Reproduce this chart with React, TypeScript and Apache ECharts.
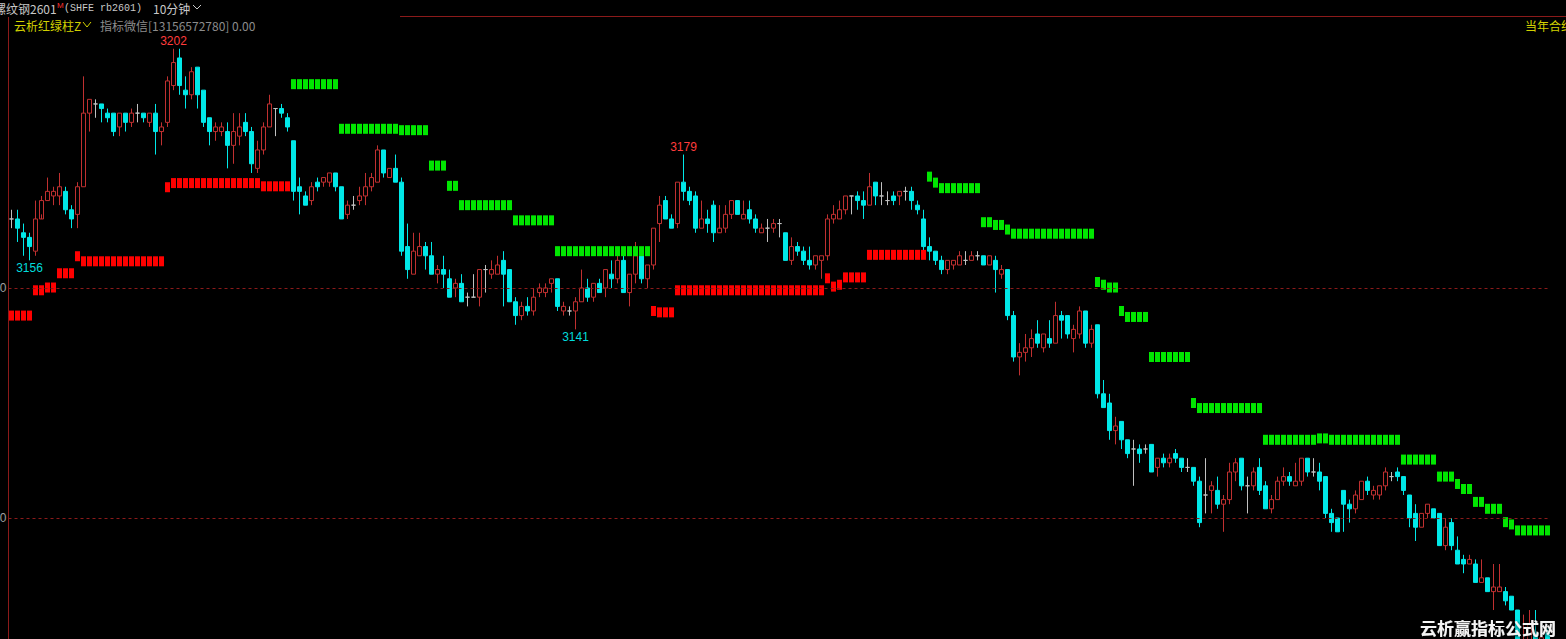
import React, { useEffect, useRef } from "react";
import * as echarts from "echarts";

// ---- candle data (10-minute bars, rb2601) ----
const opens = [
  3165,3165,3162,3161,3158,3165,3169,3170,3170,3171,
  3167,3166,3172,3188,3190,3190,3188,3188,3185,3188,
  3186,3188,3188,3186,3188,3184,3186,3194,3200,3193,
  3192,3198,3193,3187,3184,3184,3184,3181,3183,3186,
  3184,3176,3180,3185,3189,3189,3187,3182,3172,3170,
  3169,3173,3173,3173,3175,3172,3166,3168,3169,3170,
  3172,3173,3180,3174,3176,3173,3159,3153,3157,3159,
  3157,3153,3154,3152,3150,3151,3148,3148,3148,3154,
  3153,3153,3156,3154,3147,3144,3146,3145,3149,3149,
  3151,3152,3145,3145,3145,3147,3150,3148,3151,3150,
  3153,3152,3156,3149,3153,3157,3152,3155,3164,3169,
  3165,3164,3173,3171,3170,3163,3165,3168,3162,3163,
  3166,3169,3165,3167,3165,3162,3163,3163,3164,3162,
  3156,3159,3158,3156,3155,3156,3157,3165,3165,3167,
  3170,3170,3169,3168,3173,3170,3169,3170,3170,3171,
  3171,3168,3165,3159,3158,3156,3154,3155,3155,3156,
  3156,3157,3157,3155,3156,3153,3154,3144,3135,3136,
  3137,3140,3137,3139,3138,3144,3144,3139,3140,3145,
  3138,3142,3127,3125,3119,3121,3117,3115,3115,3115,
  3116,3111,3113,3112,3114,3113,3111,3111,3108,3105,
  3106,3106,3103,3104,3110,3113,3107,3107,3111,3107,
  3102,3104,3108,3109,3107,3108,3113,3110,3110,3109,
  3101,3100,3106,3103,3102,3104,3108,3105,3105,3107,
  3109,3110,3109,3105,3101,3098,3101,3102,3101,3094,
  3099,3093,3091,3090,3090,3086,3087,3084,3084,3084,
  3083,3080,3071,3072,3075,3072,3075
];
const closes = [
  3165,3163,3161,3159,3165,3169,3171,3171,3172,3167,
  3165,3172,3188,3191,3190,3189,3187,3184,3188,3186,
  3188,3188,3187,3188,3184,3185,3195,3199,3194,3192,
  3197,3192,3186,3184,3185,3185,3181,3184,3185,3184,
  3177,3180,3185,3190,3189,3188,3185,3171,3171,3168,
  3172,3172,3174,3175,3172,3165,3168,3168,3170,3172,
  3174,3180,3175,3176,3173,3158,3154,3158,3159,3157,
  3153,3154,3153,3148,3151,3147,3148,3148,3154,3154,
  3154,3155,3153,3147,3144,3146,3145,3148,3150,3150,
  3152,3146,3146,3145,3147,3150,3148,3151,3149,3154,
  3152,3156,3149,3153,3157,3152,3155,3163,3168,3165,
  3163,3173,3171,3169,3163,3165,3164,3162,3163,3166,
  3169,3166,3166,3165,3163,3163,3163,3164,3164,3156,
  3159,3158,3156,3155,3157,3157,3165,3166,3167,3170,
  3170,3169,3168,3172,3170,3170,3169,3169,3171,3171,
  3169,3167,3159,3158,3156,3154,3156,3156,3157,3156,
  3157,3157,3155,3157,3154,3154,3144,3135,3136,3137,
  3139,3138,3140,3138,3144,3143,3140,3141,3145,3138,
  3141,3127,3124,3119,3120,3117,3114,3115,3114,3115,
  3110,3113,3112,3113,3113,3111,3111,3108,3099,3105,
  3107,3103,3104,3110,3112,3107,3107,3110,3106,3102,
  3104,3108,3109,3108,3108,3113,3110,3110,3108,3101,
  3099,3097,3103,3102,3105,3108,3106,3106,3107,3110,
  3109,3109,3106,3100,3098,3101,3103,3100,3094,3098,
  3094,3090,3090,3091,3086,3087,3084,3085,3085,3082,
  3080,3072,3073,3077,3072,3074,3072
];
const highs = [
  3167,3167,3164,3162,3169,3170,3174,3172,3175,3172,
  3168,3173,3196,3191,3191,3190,3189,3188,3188,3188,
  3189,3190,3188,3188,3190,3186,3196,3202,3202,3196,
  3198,3198,3193,3187,3186,3186,3186,3188,3188,3188,
  3185,3182,3186,3192,3189,3190,3188,3182,3174,3171,
  3173,3174,3174,3175,3175,3172,3169,3170,3172,3175,
  3175,3181,3180,3176,3179,3174,3164,3162,3162,3160,
  3160,3155,3157,3154,3152,3153,3149,3153,3154,3155,
  3156,3157,3158,3154,3148,3147,3148,3150,3151,3151,
  3152,3152,3147,3146,3148,3154,3152,3151,3152,3154,
  3156,3157,3157,3153,3160,3158,3155,3163,3170,3170,
  3166,3173,3179,3172,3171,3169,3167,3169,3168,3168,
  3169,3169,3169,3169,3166,3164,3165,3165,3165,3162,
  3161,3160,3159,3159,3157,3157,3166,3168,3169,3170,
  3170,3171,3171,3175,3173,3173,3171,3171,3171,3172,
  3172,3169,3167,3161,3158,3157,3156,3156,3158,3158,
  3158,3158,3157,3157,3157,3155,3154,3145,3138,3140,
  3141,3143,3140,3143,3147,3145,3144,3142,3146,3145,
  3142,3142,3130,3127,3122,3121,3117,3117,3116,3116,
  3116,3113,3114,3114,3115,3113,3113,3111,3109,3113,
  3108,3109,3105,3112,3113,3113,3109,3111,3113,3108,
  3105,3109,3111,3110,3112,3113,3113,3113,3112,3109,
  3102,3100,3106,3104,3106,3108,3109,3107,3107,3111,
  3110,3111,3109,3105,3103,3101,3103,3102,3101,3100,
  3100,3096,3092,3092,3091,3091,3087,3090,3090,3085,
  3083,3080,3079,3080,3080,3076,3076
];
const lows = [
  3163,3160,3157,3156,3157,3166,3169,3168,3168,3166,
  3163,3163,3172,3184,3187,3186,3186,3183,3183,3184,
  3185,3186,3186,3185,3179,3181,3185,3193,3192,3189,
  3191,3189,3185,3181,3182,3183,3176,3177,3181,3183,
  3175,3175,3179,3185,3183,3187,3184,3169,3166,3168,
  3168,3171,3172,3172,3171,3165,3165,3167,3168,3168,
  3171,3173,3174,3174,3173,3157,3152,3153,3157,3154,
  3153,3151,3150,3148,3148,3147,3146,3148,3146,3149,
  3152,3153,3146,3147,3142,3143,3144,3144,3148,3148,
  3149,3145,3144,3144,3141,3147,3147,3147,3149,3148,
  3150,3151,3149,3146,3151,3151,3150,3154,3160,3165,
  3163,3163,3169,3168,3162,3163,3162,3160,3162,3162,
  3165,3166,3165,3164,3162,3162,3160,3162,3161,3156,
  3155,3157,3155,3154,3154,3152,3156,3164,3165,3166,
  3166,3167,3165,3168,3168,3168,3168,3168,3168,3169,
  3167,3166,3158,3156,3155,3153,3153,3154,3155,3155,
  3156,3156,3155,3155,3149,3152,3143,3134,3131,3134,
  3135,3137,3136,3137,3138,3139,3139,3136,3139,3137,
  3137,3126,3124,3117,3116,3115,3113,3107,3112,3114,
  3110,3109,3111,3111,3112,3110,3110,3107,3098,3101,
  3101,3102,3097,3103,3108,3106,3101,3106,3105,3102,
  3101,3104,3107,3107,3107,3107,3109,3109,3106,3100,
  3097,3097,3097,3099,3101,3104,3105,3104,3104,3106,
  3108,3108,3105,3098,3095,3098,3100,3100,3094,3093,
  3093,3090,3088,3090,3086,3086,3084,3080,3084,3081,
  3080,3071,3070,3071,3071,3071,3071
];

// ---- 云析红绿柱 indicator levels: [firstBar, lastBar, level] ----
const redRuns: [number, number, number][] = [
  [0, 3, 3144], [4, 5, 3149.5], [6, 7, 3150.1], [8, 10, 3153.2], [11, 11, 3156.9],
  [12, 25, 3155.8], [26, 26, 3171.9], [27, 41, 3172.8], [42, 46, 3172.1],
  [107, 107, 3145], [108, 110, 3144.7], [111, 135, 3149.5], [136, 136, 3152.1],
  [137, 137, 3150.3], [138, 138, 3150.7], [139, 142, 3152.3], [143, 152, 3157.2]
];
const greenRuns: [number, number, number][] = [
  [47, 54, 3194.3], [55, 64, 3184.6], [65, 69, 3184.3], [70, 72, 3176.6], [73, 74, 3172.2],
  [75, 83, 3168], [84, 90, 3164.7], [91, 106, 3158],
  [153, 153, 3174.2], [154, 154, 3172.9], [155, 161, 3171.7], [162, 163, 3164.3],
  [164, 165, 3163.7], [166, 166, 3162.7], [167, 180, 3161.8], [181, 181, 3151.3],
  [182, 182, 3150.7], [183, 184, 3150.1], [185, 185, 3145], [186, 189, 3143.7],
  [190, 196, 3135], [197, 197, 3125], [198, 208, 3123.9], [209, 217, 3117],
  [218, 219, 3117.3], [220, 231, 3117], [232, 237, 3112.7], [238, 240, 3109],
  [241, 241, 3107.4], [242, 243, 3106.3], [244, 245, 3103.5], [246, 248, 3102],
  [249, 249, 3099.1], [250, 250, 3098.6], [251, 256, 3097.3]
];

const priceLines = [3150, 3100];
const extremes: { idx: number; value: number; kind: "high" | "low" }[] = [
  { idx: 27, value: 3202, kind: "high" },
  { idx: 3, value: 3156, kind: "low" },
  { idx: 94, value: 3141, kind: "low" },
  { idx: 112, value: 3179, kind: "high" }
];

const categories = opens.map((_, i) => String(i));

function runsToPoints(runs: [number, number, number][]) {
  const pts: [number, number][] = [];
  runs.forEach(([a, b, v]) => {
    for (let i = a; i <= b; i++) pts.push([i, v]);
  });
  return pts;
}

const UP = "#c03030";
const DOWN = "#00e8e8";
const CJK = "'Noto Sans CJK SC', 'Noto Sans', sans-serif";

export default function App() {
  const ref = useRef<HTMLDivElement>(null);
  useEffect(() => {
    document.body.style.margin = "0";
    document.body.style.background = "#000";
    const chart = echarts.init(ref.current!, null, { renderer: "svg" });
    const candleData = opens.map((o, i) => [o, closes[i], lows[i], highs[i]]);
    chart.setOption({
      animation: false,
      backgroundColor: "#000000",
      grid: { left: 8.5, top: 17, width: 6 * opens.length, height: 622 },
      xAxis: {
        type: "category",
        data: categories,
        boundaryGap: true,
        show: false
      },
      yAxis: {
        type: "value",
        min: 3073.7,
        max: 3208.9,
        show: false
      },
      graphic: [
        { type: "line", shape: { x1: 400, y1: 16.5, x2: 1566, y2: 16.5 }, style: { stroke: "#8b1a1a", lineWidth: 1 }, silent: true },
        { type: "line", shape: { x1: 8.5, y1: 17, x2: 8.5, y2: 639 }, style: { stroke: "#8b1a1a", lineWidth: 1 }, silent: true },
        { type: "text", x: -6, y: 8, style: { text: "螺纹钢2601", fill: "#c8c8c8", font: `12px ${CJK}`, textVerticalAlign: "middle" } },
        { type: "text", x: 57, y: 5, style: { text: "M", fill: "#ff3030", font: `8px 'Liberation Sans'`, textVerticalAlign: "middle" } },
        { type: "text", x: 64, y: 8, style: { text: "(SHFE rb2601)", fill: "#c8c8c8", font: `10px 'Liberation Mono'`, textVerticalAlign: "middle" } },
        { type: "text", x: 153, y: 8, style: { text: "10分钟", fill: "#c8c8c8", font: `12px ${CJK}`, textVerticalAlign: "middle" } },
        { type: "polyline", shape: { points: [[193, 5], [197, 9], [201, 5]] }, style: { stroke: "#c8c8c8", fill: null, lineWidth: 1 } },
        { type: "text", x: 14, y: 25, style: { text: "云析红绿柱Z", fill: "#d2d200", font: `12px ${CJK}`, textVerticalAlign: "middle" } },
        { type: "polyline", shape: { points: [[83, 22], [87, 27], [91, 22]] }, style: { stroke: "#d2d200", fill: null, lineWidth: 1 } },
        { type: "text", x: 100, y: 25, style: { text: "指标微信[13156572780] 0.00", fill: "#8c8c8c", font: `12px ${CJK}`, textVerticalAlign: "middle" } },
        { type: "text", x: 1525, y: 25, style: { text: "当年合约", fill: "#d2d200", font: `12px ${CJK}`, textVerticalAlign: "middle" } },
        {
          type: "text", right: 10, bottom: 3, z: 100,
          style: {
            text: "云析赢指标公式网", fill: "#f4f4f4", font: `bold 17px ${CJK}`,
            textShadowColor: "#000000", textShadowBlur: 3, textShadowOffsetX: 1, textShadowOffsetY: 1
          }
        }
      ],
      series: [
        {
          type: "candlestick",
          data: candleData,
          barWidth: 5,
          itemStyle: {
            color: "#000000",
            color0: DOWN,
            borderColor: UP,
            borderColor0: DOWN,
            borderColorDoji: "#c0c0c0",
            borderWidth: 1
          },
          markLine: {
            silent: true,
            symbol: ["none", "none"],
            lineStyle: { color: "#8b1a1a", type: [3, 3], width: 1 },
            label: { show: true, position: "start", distance: 2, color: "#a0a0a0", fontSize: 12, fontFamily: "Liberation Sans", formatter: "{c}" },
            data: priceLines.map((v) => ({ yAxis: v }))
          },
          markPoint: {
            symbol: "circle",
            symbolSize: 0,
            data: extremes.map((e) => ({
              coord: [e.idx, e.value],
              value: e.value,
              label: {
                show: true,
                formatter: String(e.value),
                position: e.kind === "high" ? "top" : "bottom",
                distance: 2,
                color: e.kind === "high" ? "#ff3c3c" : "#00dcdc",
                fontSize: 12,
                fontFamily: "Liberation Sans"
              }
            }))
          }
        },
        {
          type: "scatter",
          symbol: "rect",
          symbolSize: [5, 10],
          data: runsToPoints(redRuns),
          itemStyle: { color: "#ff0000", opacity: 1 },
          z: 3
        },
        {
          type: "scatter",
          symbol: "rect",
          symbolSize: [5, 10],
          data: runsToPoints(greenRuns),
          itemStyle: { color: "#00e600", opacity: 1 },
          z: 3
        }
      ]
    });
    return () => chart.dispose();
  }, []);
  return (
    <div
      ref={ref}
      style={{ position: "absolute", left: 0, top: 0, width: 1566, height: 639, background: "#000" }}
    />
  );
}
